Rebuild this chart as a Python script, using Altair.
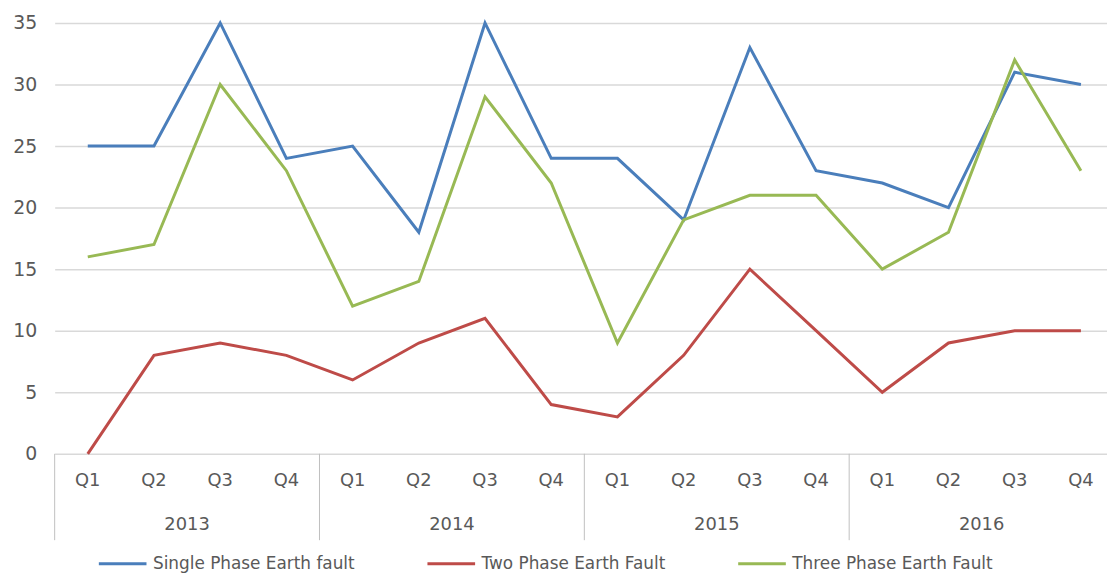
import altair as alt
import pandas as pd

quarters = ["Q1", "Q2", "Q3", "Q4"]
years = ["2013", "2014", "2015", "2016"]
series_names = ["Single Phase Earth fault", "Two Phase Earth Fault", "Three Phase Earth Fault"]
single_phase = [25, 25, 35, 24, 25, 18, 35, 24, 24, 19, 33, 23, 22, 20, 31, 30]
two_phase = [0, 8, 9, 8, 6, 9, 11, 4, 3, 8, 15, 10, 5, 9, 10, 10]
three_phase = [16, 17, 30, 23, 12, 14, 29, 22, 9, 19, 21, 21, 15, 18, 32, 23]
colors = ["#4A7EBB", "#BE4B48", "#98B954"]
y_ticks = [0, 5, 10, 15, 20, 25, 30, 35]

FONT = "DejaVu Sans"
TXT = "#595959"

rows = []
qrows = []
for yi, yr in enumerate(years):
    for qi, q in enumerate(quarters):
        idx = yi * 4 + qi
        qrows.append({"idx": idx, "label": q})
        for name, vals in zip(series_names, [single_phase, two_phase, three_phase]):
            rows.append({"idx": idx, "series": name, "value": vals[idx]})
df = pd.DataFrame(rows)
df_q = pd.DataFrame(qrows)
df_y = pd.DataFrame({"idx": [yi * 4 + 1.5 for yi in range(len(years))], "label": years})
df_sep = pd.DataFrame({"idx": [yi * 4 - 0.5 for yi in range(len(years))]})

xscale = alt.Scale(domain=[-0.5, 15.394], nice=False, zero=False)

lines = alt.Chart(df).mark_line(strokeWidth=3).encode(
    x=alt.X("idx:Q", scale=xscale, axis=None),
    y=alt.Y("value:Q", scale=alt.Scale(domain=[0, 35], nice=False),
            axis=alt.Axis(values=y_ticks, title=None, domain=False, ticks=False,
                          grid=True, gridColor="#d9d9d9", gridWidth=1.5,
                          labelColor=TXT, labelFontSize=19, labelFont=FONT,
                          labelPadding=18)),
    color=alt.Color("series:N", scale=alt.Scale(domain=series_names, range=colors),
                    legend=alt.Legend(orient="none", legendX=43, legendY=519,
                                      direction="horizontal", title=None,
                                      symbolType="stroke", symbolSize=2304,
                                      symbolStrokeWidth=3, labelFontSize=17,
                                      labelFont=FONT, labelColor=TXT, labelOffset=5,
                                      columnPadding=66, labelLimit=400)),
)

seps = alt.Chart(df_sep).mark_rule(color="#bfbfbf", strokeWidth=1).encode(
    x=alt.X("idx:Q", scale=xscale, axis=None),
    y=alt.value(434),
    y2=alt.value(521),
)

qtext = alt.Chart(df_q).mark_text(fontSize=18, font=FONT, color=TXT, baseline="middle").encode(
    x=alt.X("idx:Q", scale=xscale, axis=None),
    y=alt.value(461),
    text="label:N",
)

ytext = alt.Chart(df_y).mark_text(fontSize=18, font=FONT, color=TXT, baseline="middle").encode(
    x=alt.X("idx:Q", scale=xscale, axis=None),
    y=alt.value(506),
    text="label:N",
)

chart = alt.layer(lines, seps, qtext, ytext).properties(
    width=1060, height=434,
    padding={"left": 47, "top": 13, "right": 0, "bottom": 118},
    autosize="none",
).configure_view(stroke=None)

chart.save("out.html", embed_options={"renderer": "svg", "actions": False})
